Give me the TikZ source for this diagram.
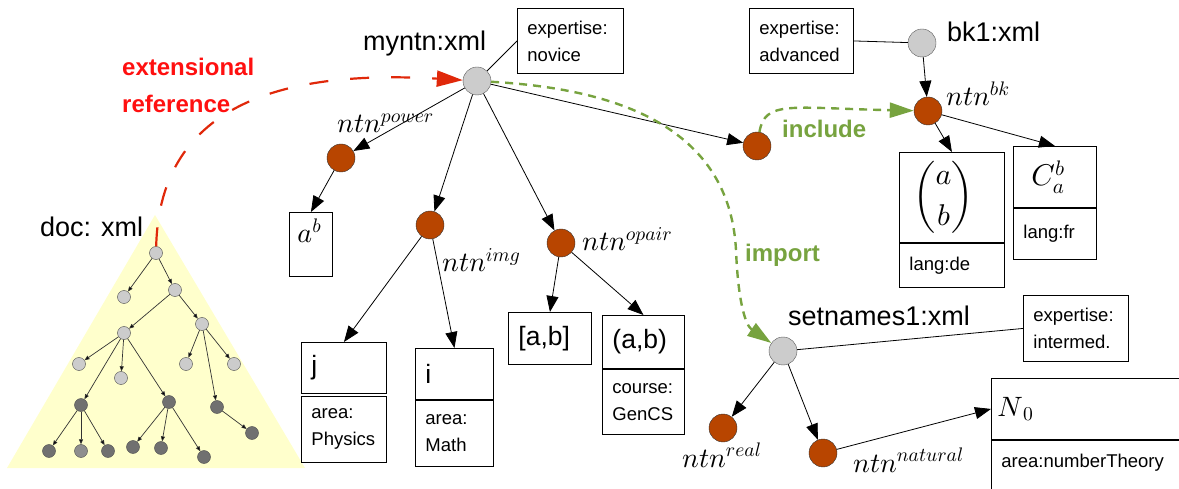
\documentclass[tikz,border=0pt]{standalone}
\usepackage[no-math]{fontspec}
\setmainfont{Liberation Sans}
\DeclareFontShape{OML}{cmm}{m}{it}{<->cmmi10}{\skewchar\font=127 }
\DeclareFontShape{OMS}{cmsy}{m}{n}{<->cmsy10}{\skewchar\font=48 }
\DeclareFontShape{OMX}{cmex}{m}{n}{<->cmex10}{}
\DeclareFontShape{OT1}{cmr}{m}{n}{<->cmr10}{}
\usetikzlibrary{arrows.meta, positioning}
\definecolor{rust}{HTML}{B84500}
\definecolor{silver}{HTML}{CCCCCC}
\definecolor{slate}{HTML}{707070}
\definecolor{ash}{HTML}{8E8E8E}
\definecolor{cream}{HTML}{FFFFCC}
\definecolor{refred}{HTML}{E0280A}
\definecolor{labred}{HTML}{FF1010}
\definecolor{leaf}{HTML}{77A33F}

\begin{document}
\begin{tikzpicture}[x=1pt, y=-1pt,
        xml/.style={circle, draw=black!65, fill=silver, minimum size=28pt, inner sep=0pt},
        ntn/.style={circle, draw=black!80, fill=rust, minimum size=28pt, inner sep=0pt},
        twig/.style={circle, draw=black!70, fill=silver, minimum size=13pt, inner sep=0pt},
        dtwig/.style={twig, fill=slate},
        title/.style={font=\fontsize{27}{30}\selectfont, inner sep=0pt, anchor=base west},
        tag/.style={font=\fontsize{28}{30}\selectfont, inner sep=0pt, anchor=base west},
        cell/.style={draw, rectangle, line width=0.9pt, align=left, inner xsep=10pt, inner ysep=0pt},
        val/.style={cell, font=\fontsize{26.5}{30}\selectfont},
        meta/.style={cell, font=\fontsize{18.5}{27}\selectfont},
        link/.style={-{Triangle[length=16pt, width=12pt]}, line width=0.8pt},
        twiglink/.style={-{Triangle[length=5pt, width=4pt]}, line width=0.7pt, draw=black!80},
        extref/.style={-{Triangle[length=26pt, width=16pt]}, refred, line width=2.2pt, dash pattern=on 19pt off 22pt},
        reuse/.style={-{Triangle[length=24pt, width=15pt]}, leaf, line width=2.4pt, dash pattern=on 8pt off 6pt},
        node distance=0pt,
      ]
        \useasboundingbox (0,0) rectangle (1179,489);
        \clip (0,0) rectangle (1179,489);
        \fill[cream] (7,468) -- (155,215) -- (305,468) -- cycle;

        \node[twig] (root) at (156,253) {};
        \node[twig] (a1) at (124,297) {};
        \node[twig] (a2) at (175,290) {};
        \node[twig] (b1) at (124,333) {};
        \node[twig] (b2) at (202,324) {};
        \node[twig] (c1) at (79,364) {};
        \node[twig] (c2) at (121,378) {};
        \node[twig] (c3) at (186,364) {};
        \node[twig] (c4) at (234,364) {};
        \node[dtwig] (d1) at (81,405) {};
        \node[dtwig] (d2) at (169,402) {};
        \node[dtwig] (d3) at (217,407) {};
        \node[dtwig] (e1) at (49,451) {};
        \node[twig, fill=ash] (e2) at (81,451) {};
        \node[dtwig] (e3) at (108,451) {};
        \node[dtwig] (e4) at (133,447) {};
        \node[dtwig] (e5) at (161,448) {};
        \node[dtwig] (e6) at (204,457) {};
        \node[dtwig] (e7) at (252,433) {};
        \draw[twiglink] (root) edge (a1) edge (a2);
        \draw[twiglink] (a2) edge (b1) edge (b2);
        \draw[twiglink] (b1) edge (c1) edge (c2) edge (d1) edge (d2);
        \draw[twiglink] (b2) edge (c3) edge (c4) edge (d3);
        \draw[twiglink] (d1) edge (e1) edge (e2) edge (e3);
        \draw[twiglink] (d2) edge (e4) edge (e5) edge (e6);
        \draw[twiglink] (d3) edge (e7);
        \node[title] (doclbl) at (40,237) {doc: xml};
        \node[font=\fontsize{24}{37}\selectfont\bfseries, text=labred, align=left, anchor=west, inner sep=0pt] (extlbl) at (122,85) {extensional\\reference};

        \node[xml] (mynt) at (477,81) {};
        \node[title] (myntlbl) at (363,51) {myntn:xml};
        \node[meta, anchor=north west, text width=86pt, minimum height=65pt] (novice) at (517,8) {expertise:\\novice};
        \node[ntn] (power) at (341,158) {};
        \node[tag] (powerlbl) at (337,133) {$ntn^{power}$};
        \node[val, font=\fontsize{28}{30}\selectfont, anchor=north west, text width=27pt, inner xsep=8pt, inner ysep=4pt, text height=26pt, text depth=30pt] (apow) at (289,212) {$a^b$};
        \node[ntn] (img) at (430,225) {};
        \node[tag] (imglbl) at (442,272) {$ntn^{img}$};
        \node[val, anchor=north west, text width=65pt, minimum height=51pt] (jval) at (301,342) {j};
        \node[meta, below=2pt of jval, text width=65pt, minimum height=66pt] (jmeta) {area:\\Physics};
        \node[val, anchor=north west, text width=58pt, minimum height=51pt] (ival) at (415,348) {i};
        \node[meta, below=of ival, text width=58pt, minimum height=66pt] (imeta) {area:\\Math};
        \node[ntn] (opair) at (561,243) {};
        \node[tag] (opairlbl) at (582,251) {$ntn^{opair}$};
        \node[val, anchor=north west, text width=63pt, minimum height=52pt] (closed) at (508,312) {[a,b]};
        \node[val, anchor=north west, text width=62pt, minimum height=53pt] (pair) at (602,315) {(a,b)};
        \node[meta, below=of pair, text width=62pt, minimum height=65pt] (pairmeta) {course:\\GenCS};
        \node[ntn] (incl) at (757,146) {};

        \node[xml] (bkone) at (922,43) {};
        \node[title] (bkonelbl) at (947,42) {bk1:xml};
        \node[meta, anchor=north west, text width=84pt, minimum height=65pt] (advanced) at (749,8) {expertise:\\advanced};
        \node[ntn] (bk) at (928,111) {};
        \node[tag] (bklbl) at (946,106) {$ntn^{bk}$};
        \node[val, font=\fontsize{30}{32}\selectfont, anchor=north west, text width=77pt, inner xsep=14pt, minimum height=90pt] (binom) at (899,152) {$\displaystyle{a \choose b}$};
        \node[meta, below=of binom, text width=85pt, minimum height=44pt] (binommeta) {lang:de};
        \node[val, font=\fontsize{30}{32}\selectfont, anchor=north west, text width=47pt, inner xsep=18pt, minimum height=61pt] (comb) at (1013,146) {$C_a^b$};
        \node[meta, below=of comb, text width=63pt, minimum height=51pt] (combmeta) {lang:fr};
        \node[font=\fontsize{24}{28}\selectfont\bfseries, text=leaf, anchor=base west, inner sep=0pt] (incllbl) at (782,138) {include};

        \node[xml] (setn) at (783,351) {};
        \node[title] (setnlbl) at (788,326) {setnames1:xml};
        \node[meta, anchor=north west, text width=85pt, minimum height=66pt] (intermed) at (1023,295) {expertise:\\intermed.};
        \node[ntn] (real) at (723,428) {};
        \node[tag] (reallbl) at (682,467) {$ntn^{real}$};
        \node[ntn] (natural) at (823,453) {};
        \node[tag] (naturallbl) at (853,472) {$ntn^{natural}$};
        \node[val, font=\fontsize{28}{30}\selectfont, anchor=north west, text width=208pt, inner xsep=6pt, minimum height=61pt] (nzero) at (991,378) {$N_{\,0}$};
        \node[meta, below=of nzero, text width=200pt, inner ysep=14pt, text height=13pt, text depth=40pt] (nzerometa) {area:numberTheory};
        \node[font=\fontsize{24}{28}\selectfont\bfseries, text=leaf, anchor=base west, inner sep=0pt] (implbl) at (745,262) {import};

        \draw[link] (mynt) -- (power);
        \draw[link] (mynt) -- (img);
        \draw[link] (mynt) -- (opair);
        \draw[link] (mynt) -- (incl);
        \draw[line width=0.8pt] (mynt) -- (novice.west);
        \draw[link] (power) -- (apow.north);
        \draw[link] (img) -- (jval.north);
        \draw[link] (img) -- (ival.north);
        \draw[link] (opair) -- (closed.north);
        \draw[link] (opair) -- (pair.north);
        \draw[line width=0.8pt] (bkone) -- (advanced.east);
        \draw[link] (bkone) -- (bk);
        \draw[link] (bk) -- (binom.north);
        \draw[link] (bk) -- (comb.north);
        \draw[line width=0.8pt] (setn) -- (intermed.west);
        \draw[link] (setn) -- (real);
        \draw[link] (setn) -- (natural);
        \draw[link] (natural) -- (nzero.west);

        \draw[reuse] (incl) .. controls (765,100) and (790,108) .. (bk);
        \coordinate (bend) at (736,250);
        \draw[reuse] (mynt) .. controls (640,90) and (730,140) .. (bend) .. controls (738,300) and (745,325) .. (setn);
        \draw[extref] (root) .. controls (160,100) and (290,70) .. (mynt);
      \end{tikzpicture}
\end{document}
